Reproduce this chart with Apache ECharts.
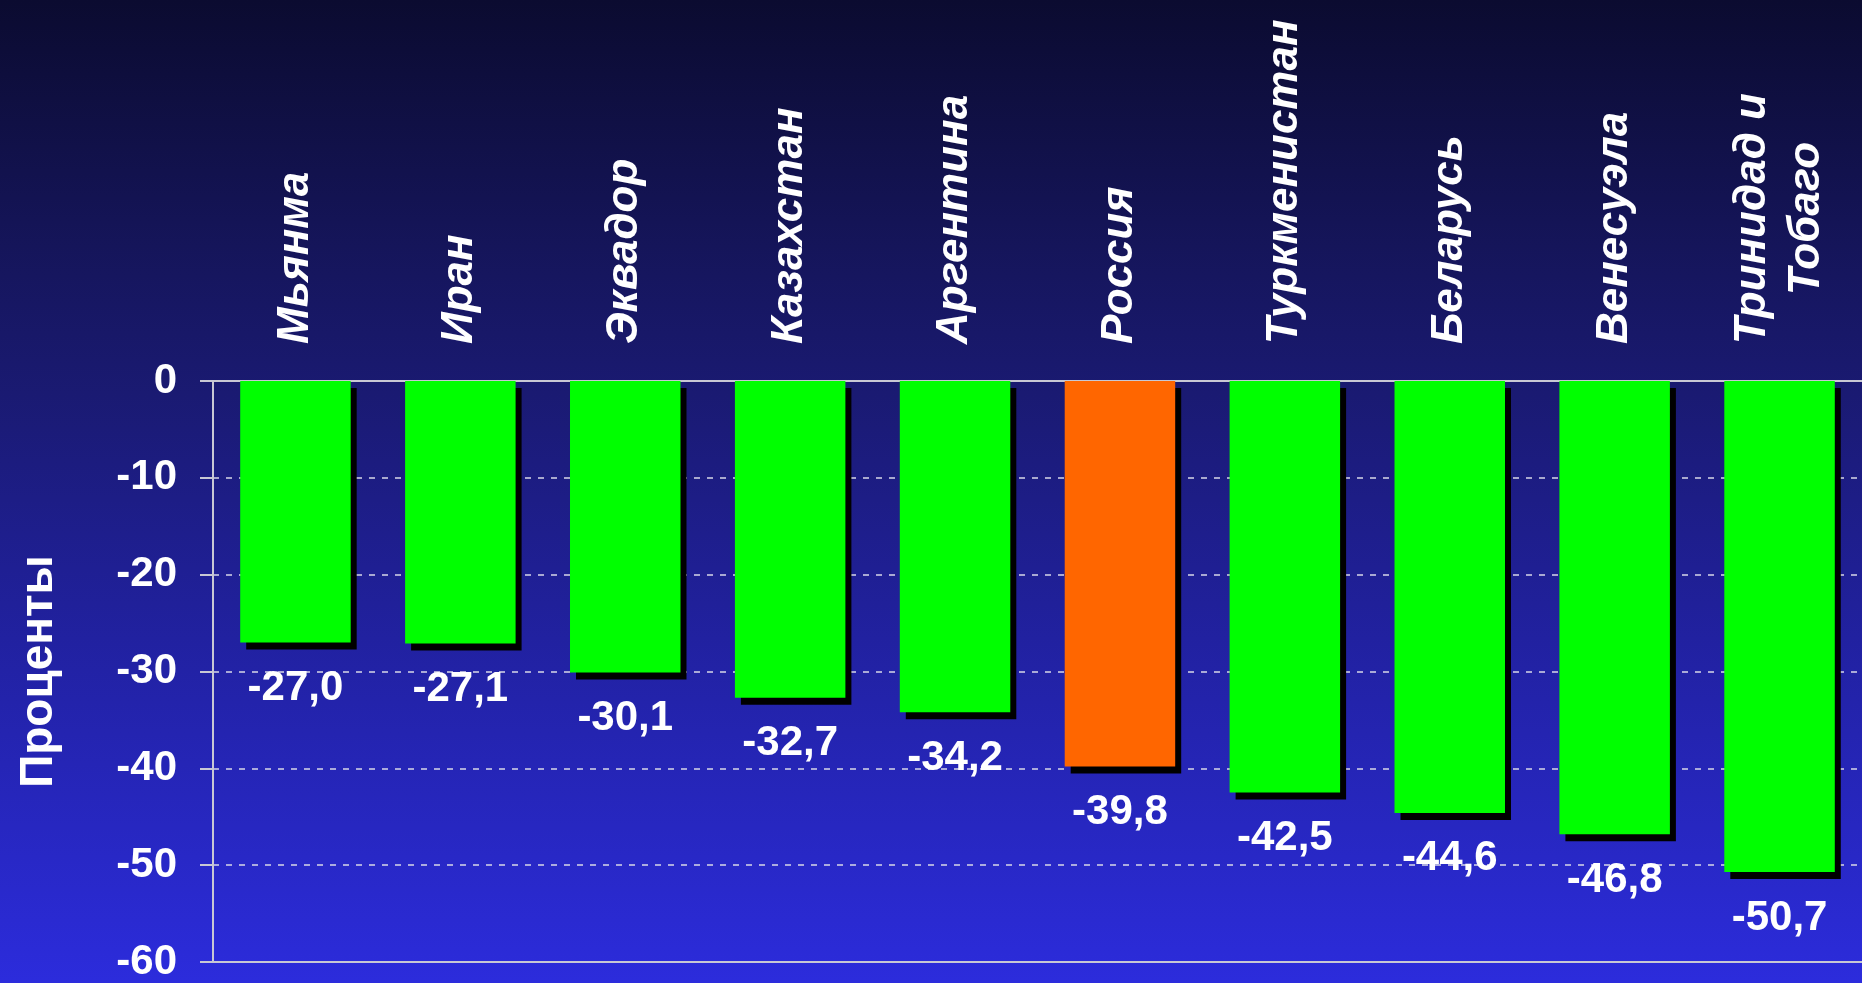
<!DOCTYPE html>
<html>
<head>
<meta charset="utf-8">
<script src="https://cdn.jsdelivr.net/npm/echarts@6/dist/echarts.min.js"></script>
<style>
html,body{margin:0;padding:0;width:1862px;height:983px;overflow:hidden;}
body{background:linear-gradient(to bottom,#0b0b30 0%,#15155a 25%,#1a1a72 40%,#2121a0 65%,#2c2cdc 100%);}
#chart{width:1862px;height:983px;}
</style>
</head>
<body>
<div id="chart"></div>
<script>
const categories = ['Мьянма','Иран','Эквадор','Казахстан','Аргентина','Россия','Туркменистан','Беларусь','Венесуэла','Тринидад и\nТобаго'];
const values = [-27.0,-27.1,-30.1,-32.7,-34.2,-39.8,-42.5,-44.6,-46.8,-50.7];
const highlighted = ['Россия'];
const yMin = -60, yMax = 0, yStep = 10;
const yName = 'Проценты';

const FONT = '"Liberation Sans", Arial, sans-serif';
const GREEN = '#00ff00', ORANGE = '#ff6600';
const LINE = '#c8c8d4';

const chart = echarts.init(document.getElementById('chart'), null, {renderer:'canvas'});
chart.setOption({
  backgroundColor: 'transparent',
  animation: false,
  grid: {left: 213, top: 381, width: 1662, height: 582, containLabel: false},
  xAxis: [{
    type: 'category',
    data: categories,
    position: 'top',
    axisLine: {show: true, lineStyle: {color: LINE, width: 2}},
    axisTick: {show: false},
    splitLine: {show: false},
    axisLabel: {
      rotate: 90, margin: 37, interval: 0,
      color: '#ffffff', fontFamily: FONT, fontSize: 44, fontWeight: 'bold', fontStyle: 'italic',
      formatter: v => v.split('\n').map(s => '{c|' + s + '}').join('\n'),
      rich: {c: {align: 'center', color: '#ffffff', fontFamily: FONT, fontSize: 44, fontWeight: 'bold', fontStyle: 'italic', lineHeight: 54}}
    }
  }, {
    type: 'category',
    data: categories,
    position: 'bottom',
    axisLine: {show: true, lineStyle: {color: LINE, width: 2}},
    axisTick: {show: false},
    axisLabel: {show: false}
  }],
  yAxis: {
    type: 'value',
    min: yMin, max: yMax, interval: yStep,
    name: yName, nameLocation: 'middle', nameGap: 151, nameRotate: 90,
    nameTextStyle: {color: '#ffffff', fontFamily: FONT, fontSize: 46, fontWeight: 'bold'},
    axisLine: {show: true, lineStyle: {color: LINE, width: 2}},
    axisTick: {show: true, length: 13, lineStyle: {color: LINE, width: 2}},
    splitLine: {show: true, lineStyle: {color: '#d8d8e8', width: 1.5, type: [6, 7]}},
    axisLabel: {margin: 36, color: '#ffffff', fontFamily: FONT, fontSize: 42, fontWeight: 'bold'}
  },
  series: [{
    type: 'bar',
    barWidth: '67%',
    data: values.map((v, i) => ({
      value: v,
      itemStyle: {color: highlighted.includes(categories[i]) ? ORANGE : GREEN}
    })),
    itemStyle: {
      borderWidth: 0,
      shadowColor: '#000000', shadowBlur: 0, shadowOffsetX: 6, shadowOffsetY: 7
    },
    label: {
      show: true, position: 'bottom', distance: 25,
      color: '#ffffff', fontFamily: FONT, fontSize: 42, fontWeight: 'bold',
      formatter: p => p.value.toFixed(1).replace('.', ',')
    }
  }]
});
</script>
</body>
</html>
